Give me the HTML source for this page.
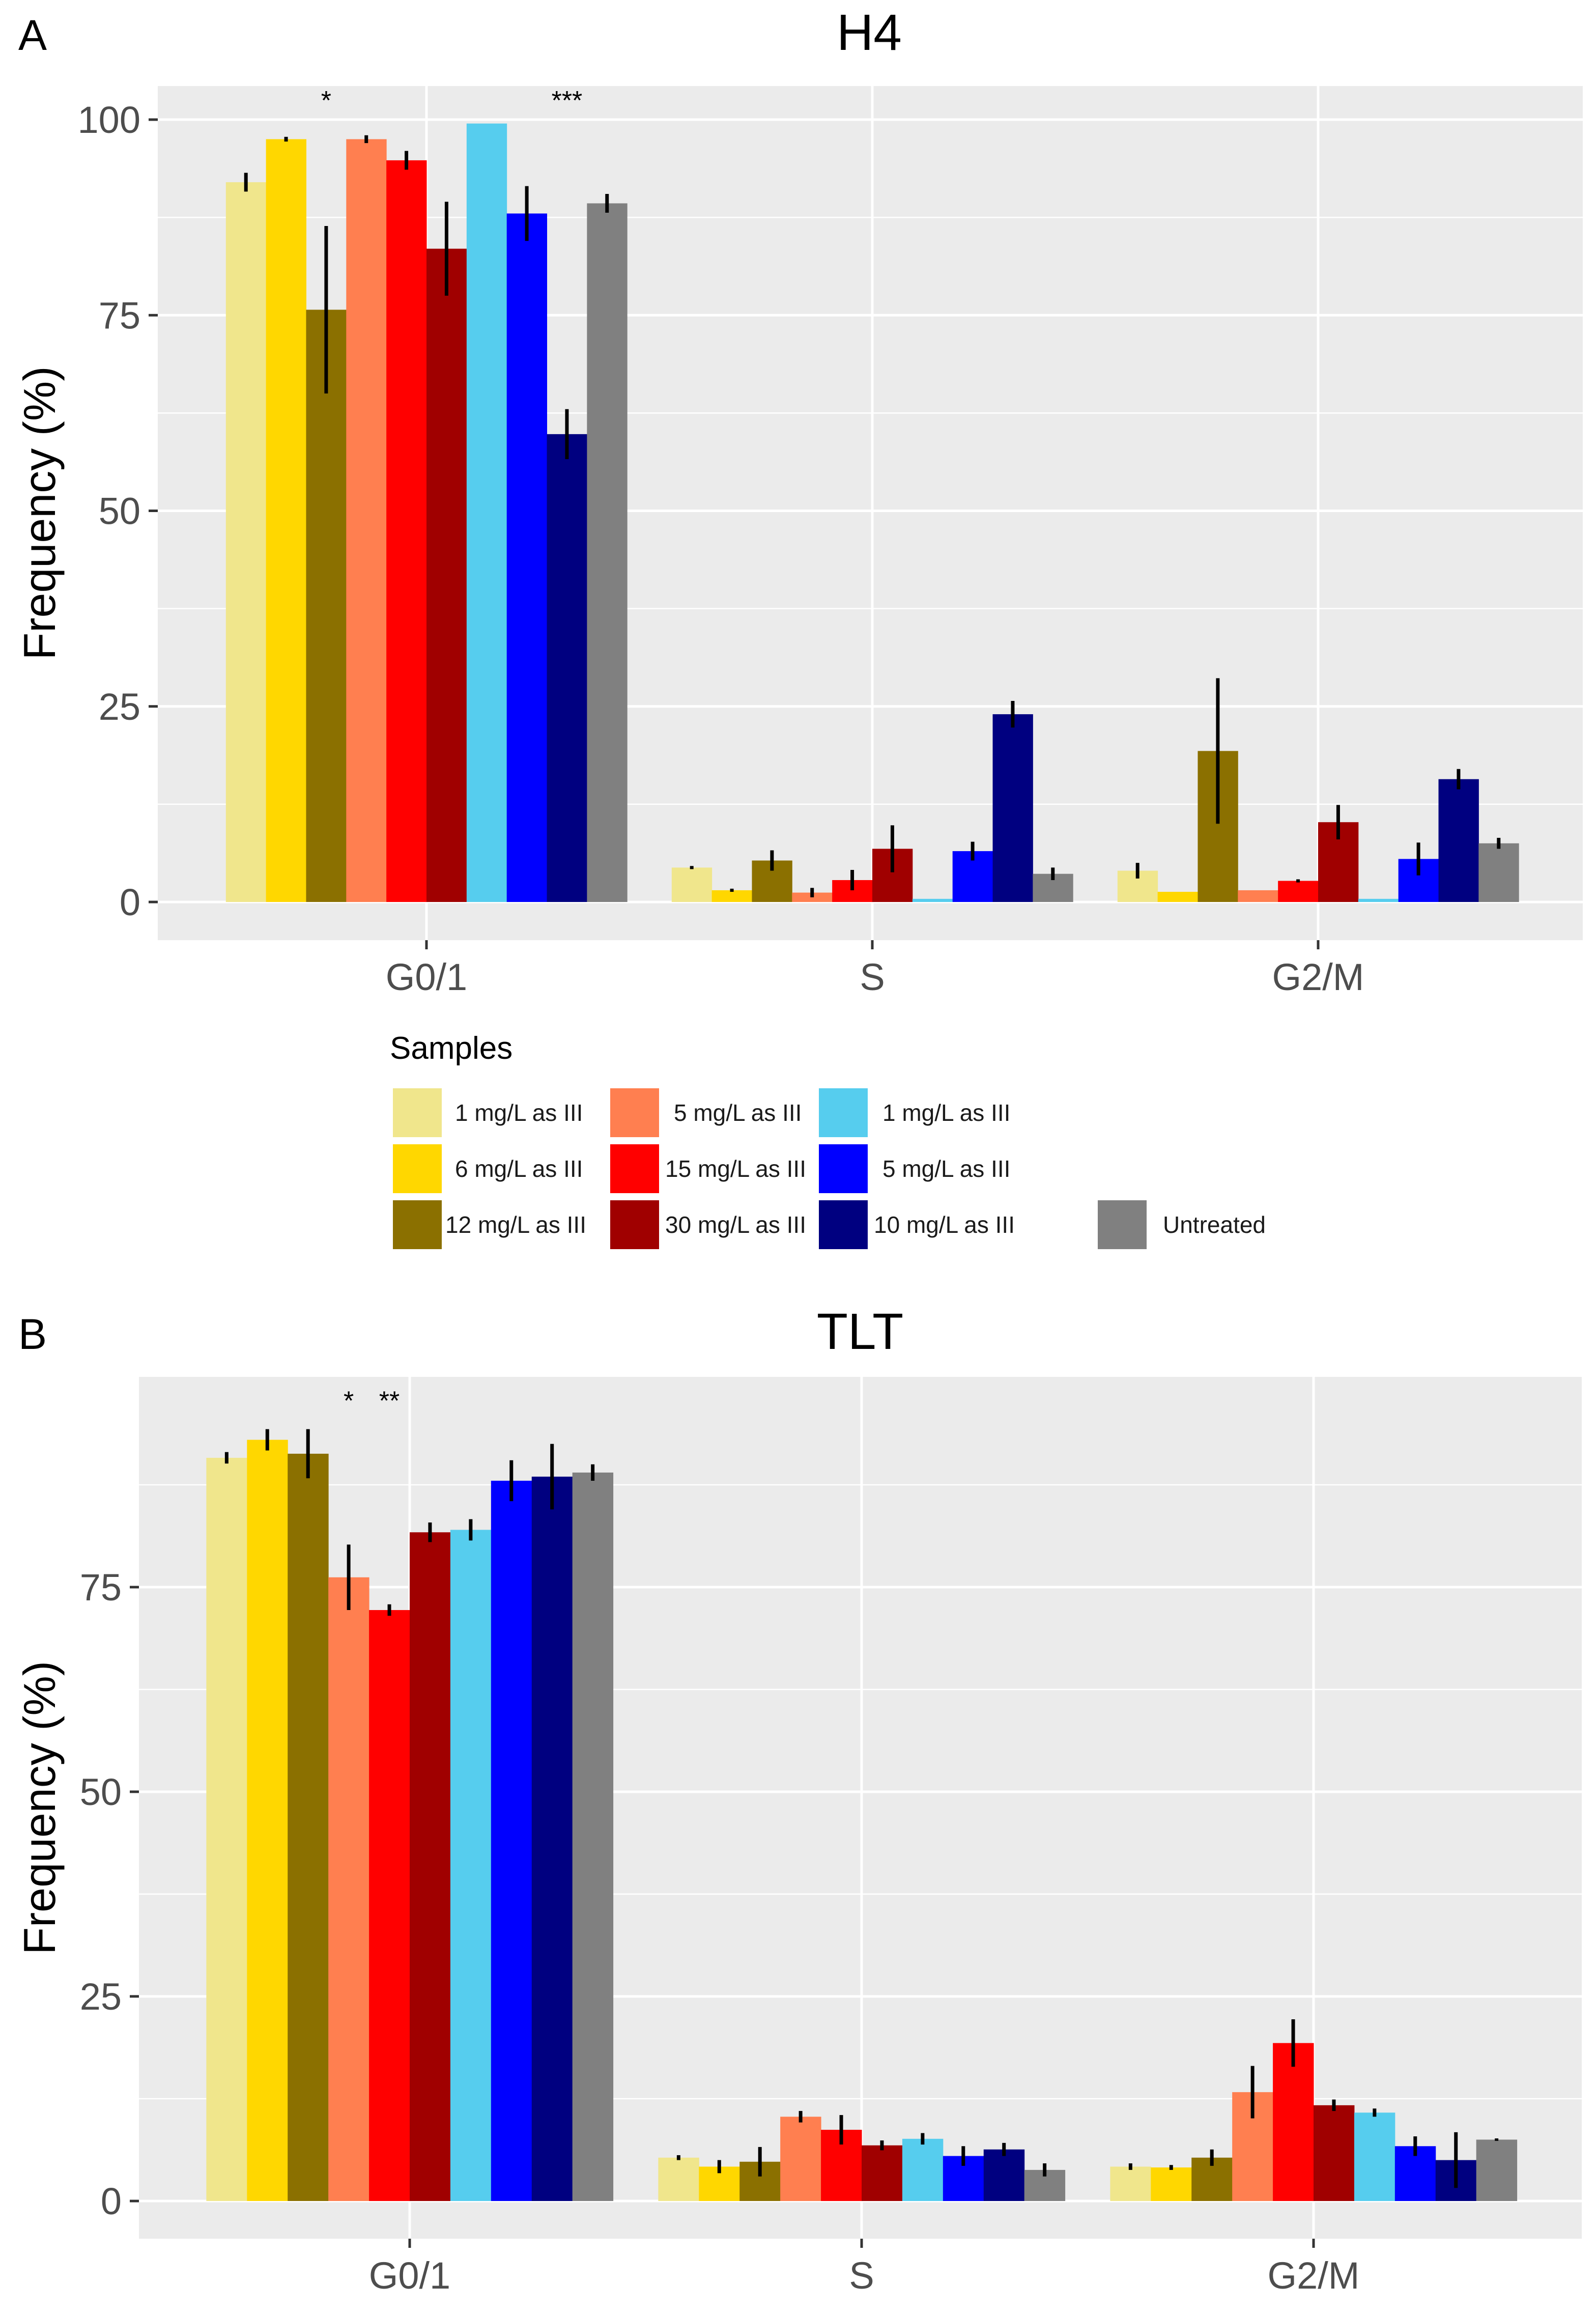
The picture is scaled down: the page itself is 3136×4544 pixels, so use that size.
<!DOCTYPE html>
<html><head><meta charset="utf-8">
<style>
html,body{margin:0;padding:0;background:#fff;}
svg{display:block;}
text{font-family:"Liberation Sans",sans-serif;}
.lg{font-family:"Liberation Sans Narrow","Liberation Sans",sans-serif;font-size:46px;fill:#1a1a1a;}
</style></head>
<body>
<svg id="chart" xmlns="http://www.w3.org/2000/svg" width="3136" height="4544" viewBox="0 0 3136 4544"></svg>
<script>
const categories = ["G0/1","S","G2/M"];
const samples = ["1 mg/L as III","6 mg/L as III","12 mg/L as III","5 mg/L as III","15 mg/L as III","30 mg/L as III","1 mg/L as III","5 mg/L as III","10 mg/L as III","Untreated"];
const colors = ["#F0E68C","#FFD700","#8B7000","#FF7F50","#FF0000","#A00000","#56CDEE","#0000FF","#000080","#808080"];
// Panel A (H4): values per category, per sample
const h4G01 = [92,97.5,75.7,97.5,94.8,83.5,99.5,88,59.8,89.3];
const h4S = [4.4,1.5,5.3,1.2,2.8,6.8,0.4,6.5,24,3.6];
const h4G2M = [4,1.3,19.3,1.5,2.7,10.2,0.4,5.5,15.7,7.5];
const h4ErrG01 = [1.2,0.3,10.7,0.5,1.2,6,0,3.5,3.2,1.2];
const h4ErrS = [0.2,0.2,1.3,0.6,1.3,3,0,1.2,1.7,0.8];
const h4ErrG2M = [1,0,9.3,0,0.2,2.2,0,2.1,1.3,0.7];
// Panel B (TLT)
const tltG01 = [90.8,93,91.3,76.2,72.2,81.7,82,88,88.5,89];
const tltS = [5.3,4.2,4.8,10.3,8.7,6.8,7.6,5.5,6.3,3.8];
const tltG2M = [4.2,4.1,5.3,13.3,19.3,11.7,10.8,6.7,5,7.5];
const tltErrG01 = [0.7,1.3,3,4,0.7,1.2,1.3,2.5,4,1];
const tltErrS = [0.3,0.8,1.8,0.7,1.8,0.6,0.7,1.2,0.8,0.8];
const tltErrG2M = [0.4,0.3,1,3.2,2.9,0.7,0.5,1.2,3.4,0.15];
const yTicksA = [0,25,50,75,100];
const yTicksB = [0,25,50,75];
const starsA = [{cat:0,bar:2,label:"*",y:103.5},{cat:0,bar:8,label:"***",y:103.5}];
const starsB = [{cat:0,bar:3,label:"*",y:98.8},{cat:0,bar:4,label:"**",y:98.8}];

const NS="http://www.w3.org/2000/svg";
const svg=document.getElementById('chart');
function mk(tag,attrs,parent){const e=document.createElementNS(NS,tag);for(const k in attrs)e.setAttribute(k,attrs[k]);(parent||svg).appendChild(e);return e;}

function panel(p){
  const g=mk('g',{});
  
  
  const ys=v=>p.y0-(v-0)*(p.y0-p.y100)/100;
  const xs=i=>p.c0+i*p.step;
  const bg=mk('rect',{x:p.left,y:p.top,width:p.right-p.left,height:p.bottom-p.top,fill:'#EBEBEB'},g);
  
  
  // minor grid
  for(let v=-12.5; v<=112.5; v+=25){const y=ys(v); if(y>p.top&&y<p.bottom){const l=mk('line',{x1:p.left,x2:p.right,y1:y,y2:y,stroke:'#fff','stroke-width':2.5},g);}}
  p.ticks.forEach(v=>{const y=ys(v);
    const l=mk('line',{x1:p.left,x2:p.right,y1:y,y2:y,stroke:'#fff','stroke-width':5},g);
    
    
    mk('line',{x1:p.left-18,x2:p.left,y1:y,y2:y,stroke:'#333','stroke-width':5},g);
    const t=mk('text',{x:p.left-34,y:y+26,'text-anchor':'end','font-size':74,fill:'#4D4D4D'},g);
    t.textContent=v;
    
    
  });
  categories.forEach((c,i)=>{const x=xs(i);
    const l=mk('line',{x1:x,x2:x,y1:p.top,y2:p.bottom,stroke:'#fff','stroke-width':5},g);
    
    
    mk('line',{x1:x,x2:x,y1:p.bottom,y2:p.bottom+18,stroke:'#333','stroke-width':5},g);
    const t=mk('text',{x:x,y:p.bottom+98,'text-anchor':'middle','font-size':74,fill:'#4D4D4D'},g);
    t.textContent=c;
    
    
  });
  const bw=p.step*0.9/samples.length;
  p.vals.forEach((arr,ci)=>{
    arr.forEach((v,si)=>{
      const x=xs(ci)-p.step*0.45+si*bw;
      const r=mk('rect',{x:x,y:ys(v),width:bw+0.5,height:ys(0)-ys(v),fill:colors[si]},g);
      
      
      const e=p.errs[ci][si];
      if(e>0){const el=mk('line',{x1:x+bw/2,x2:x+bw/2,y1:ys(v-e),y2:ys(v+e),stroke:'#000','stroke-width':7},g);
        
        }
    });
  });
  p.stars.forEach(s=>{
    const x=xs(s.cat)-p.step*0.45+(s.bar+0.5)*bw;
    const t=mk('text',{x:x,y:ys(s.y)+34,'text-anchor':'middle','font-size':52,fill:'#000'},g);
    t.textContent=s.label;
    
    
  });
  const yt=mk('text',{x:0,y:0,'text-anchor':'middle','font-size':88,fill:'#000',transform:`translate(108 ${(p.top+p.bottom)/2}) rotate(-90)`},g);
  yt.textContent='Frequency (%)';
  
  
  const ti=mk('text',{x:p.titleX,y:p.titleY,'text-anchor':'middle','font-size':100,fill:'#000'},g);
  ti.textContent=p.title;
  
  
  const lb=mk('text',{x:36,y:p.titleY,'font-size':84,fill:'#000'},g);
  lb.textContent=p.letter;
  
  
}

panel({name:'panel-a-h4',title:'H4',letter:'A',titleX:1708,titleY:98,left:310,right:3110,top:169,bottom:1847,y0:1772,y100:235,c0:838,step:876,ticks:yTicksA,vals:[h4G01,h4S,h4G2M],errs:[h4ErrG01,h4ErrS,h4ErrG2M],stars:starsA});
panel({name:'panel-b-tlt',title:'TLT',letter:'B',titleX:1690,titleY:2650,left:273,right:3108,top:2705,bottom:4398,y0:4324,y100:4324-1608,c0:805,step:888,ticks:yTicksB,vals:[tltG01,tltS,tltG2M],errs:[tltErrG01,tltErrS,tltErrG2M],stars:starsB});

// legend
const lg=mk('g',{});


const lt=mk('text',{x:766,y:2080,'font-size':62,fill:'#000'},lg);
lt.textContent='Samples';


const colX=[770,1197,1607,2155];
const rowY=[2136,2246,2356];
const lblX=[[894,894,875],[1324,1307,1307],[1734,1734,1717],[2285,2285,2285]];
samples.forEach((s,i)=>{
  let col,row;
  if(i<9){col=Math.floor(i/3);row=i%3;}else{col=3;row=2;}
  const r=mk('rect',{x:colX[col],y:rowY[row],width:100,height:100,fill:colors[i],stroke:'#fff','stroke-width':4},lg);
  
  
  const t=mk('text',{x:lblX[col][row],y:rowY[row]+66,class:'lg'},lg);
  t.textContent=s;
  
  
});
</script>
</body></html>
